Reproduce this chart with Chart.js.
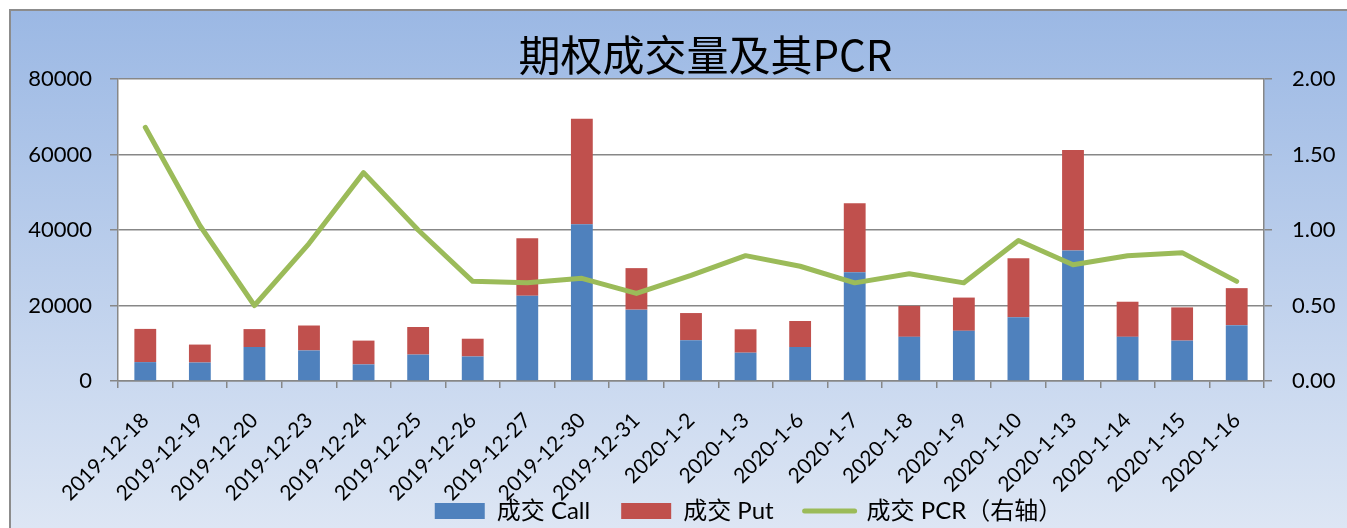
<!DOCTYPE html>
<html>
<head>
<meta charset="utf-8">
<script src="https://cdn.jsdelivr.net/npm/chart.js@4/dist/chart.umd.min.js"></script>
<style>
html,body{margin:0;padding:0;background:#fff;}
#wrap{position:relative;width:1347px;height:528px;}
</style>
</head>
<body>
<div id="wrap"><canvas id="c"></canvas></div>
<script>
const categories = ["2019-12-18","2019-12-19","2019-12-20","2019-12-23","2019-12-24","2019-12-25","2019-12-26","2019-12-27","2019-12-30","2019-12-31","2020-1-2","2020-1-3","2020-1-6","2020-1-7","2020-1-8","2020-1-9","2020-1-10","2020-1-13","2020-1-14","2020-1-15","2020-1-16"];
const callVolume = [5000, 4900, 9000, 8100, 4400, 7000, 6500, 22600, 41500, 18900, 10800, 7500, 9000, 28800, 11700, 13300, 16900, 34600, 11700, 10700, 14800];
const putVolume = [8800, 4750, 4750, 6600, 6300, 7300, 4700, 15200, 28000, 11000, 7200, 6200, 6900, 18300, 8200, 8800, 15600, 26600, 9300, 8800, 9800];
const pcrValues = [1.68, 1.03, 0.50, 0.91, 1.38, 1.00, 0.66, 0.65, 0.68, 0.58, 0.70, 0.83, 0.76, 0.65, 0.71, 0.65, 0.93, 0.77, 0.83, 0.85, 0.66];
const leftTicks = [0, 20000, 40000, 60000, 80000];
const rightTicks = [0, 0.5, 1.0, 1.5, 2.0];
const seriesNames = ["成交 Call", "成交 Put", "成交 PCR（右轴）"];
const titleText = "期权成交量及其PCR";

const TITLE_DX = 32;
const LEGEND_DX = 75;
const LEGEND_DY = -33;

const bgPlugin = {
  id: 'bg',
  beforeDraw(chart) {
    const {ctx, width, height, chartArea} = chart;
    ctx.save();
    ctx.fillStyle = '#ffffff';
    ctx.fillRect(0, 0, width, height);
    const g = ctx.createLinearGradient(0, 10, 0, height);
    g.addColorStop(0, '#9bb8e4');
    g.addColorStop(1, '#dde6f4');
    ctx.fillStyle = g;
    ctx.fillRect(10, 10, width, height);
    ctx.strokeStyle = '#8c8c8c';
    ctx.lineWidth = 2;
    ctx.beginPath();
    ctx.moveTo(10, height + 5);
    ctx.lineTo(10, 10);
    ctx.lineTo(width + 5, 10);
    ctx.stroke();
    ctx.fillStyle = '#ffffff';
    ctx.fillRect(chartArea.left, chartArea.top, chartArea.right - chartArea.left, chartArea.bottom - chartArea.top);
    ctx.restore();
  }
};

const shiftPlugin = {
  id: 'shift',
  afterLayout(chart) {
    if (chart.titleBlock) { chart.titleBlock.left += TITLE_DX; chart.titleBlock.right += TITLE_DX; }
    const lg = chart.legend;
    if (lg) {
      lg.left += LEGEND_DX; lg.right += LEGEND_DX;
      lg.top += LEGEND_DY; lg.bottom = chart.height;
      lg.height = lg.bottom - lg.top;
      lg.width = lg.right - lg.left;
    }
  }
};

const gridColor = '#878787';
const baseFont = "Lato, 'Noto Sans CJK SC', sans-serif";

const defaultGen = Chart.defaults.plugins.legend.labels.generateLabels;

new Chart(document.getElementById('c'), {
  type: 'bar',
  data: {
    labels: categories,
    datasets: [
      { label: seriesNames[0], data: callVolume, backgroundColor: '#4f81bd', stack: 's', yAxisID: 'y', order: 1 },
      { label: seriesNames[1], data: putVolume, backgroundColor: '#c0504d', stack: 's', yAxisID: 'y', order: 1 },
      { label: seriesNames[2], data: pcrValues, type: 'line', yAxisID: 'y1', borderColor: '#9bbb59', backgroundColor: '#9bbb59',
        borderWidth: 5, pointRadius: 0, pointHoverRadius: 0, tension: 0, borderCapStyle: 'round', borderJoinStyle: 'round', order: 0 }
    ]
  },
  options: {
    responsive: true,
    maintainAspectRatio: false,
    animation: false,
    devicePixelRatio: 1,
    layout: { padding: { left: 0, right: 0, top: 0, bottom: 0 } },
    datasets: { bar: { barPercentage: 0.4, categoryPercentage: 1.0 } },
    plugins: {
      tooltip: { enabled: false },
      title: {
        display: true,
        text: titleText,
        color: '#000',
        font: { family: "'Noto Sans CJK SC', sans-serif", size: 42, weight: 'normal', lineHeight: 1 },
        padding: { top: 34, bottom: 3 }
      },
      legend: {
        display: true,
        position: 'bottom',
        maxHeight: 27,
        labels: {
          color: '#000',
          font: { family: baseFont, size: 24 },
          usePointStyle: true,
          pointStyleWidth: 50,
          boxHeight: 16,
          padding: 31,
          sort: (a, b) => a.datasetIndex - b.datasetIndex,
          generateLabels(chart) {
            const items = defaultGen(chart);
            items.forEach(it => {
              const ds = chart.data.datasets[it.datasetIndex];
              if (ds.type === 'line') { it.pointStyle = 'line'; it.lineWidth = 5; it.strokeStyle = '#9bbb59'; it.lineCap = 'round'; }
              else { it.pointStyle = 'rect'; it.lineWidth = 0; }
              it.fontColor = '#000';
            });
            return items;
          }
        }
      }
    },
    scales: {
      x: {
        stacked: true,
        offset: true,
        grid: { display: true, drawOnChartArea: false, drawTicks: true, tickLength: 7, color: gridColor, lineWidth: 1.5, offset: true },
        border: { display: true, color: gridColor, width: 1.5 },
        ticks: { color: '#000', font: { family: baseFont, size: 21 }, minRotation: 45, maxRotation: 45, autoSkip: false, padding: 20 },
        afterFit(scale) { scale.height = 120; }
      },
      y: {
        stacked: true,
        position: 'left',
        min: leftTicks[0],
        max: leftTicks[leftTicks.length - 1],
        afterBuildTicks(scale) { scale.ticks = leftTicks.map(v => ({ value: v })); },
        grid: { color: gridColor, lineWidth: 1.5, tickLength: 8, drawTicks: true },
        border: { display: true, color: gridColor, width: 1.5 },
        ticks: { color: '#000', font: { family: baseFont, size: 22 }, padding: 18, callback: v => String(v) },
        afterFit(scale) { scale.width = 118; }
      },
      y1: {
        stacked: false,
        position: 'right',
        min: rightTicks[0],
        max: rightTicks[rightTicks.length - 1],
        afterBuildTicks(scale) { scale.ticks = rightTicks.map(v => ({ value: v })); },
        grid: { drawOnChartArea: false, color: gridColor, lineWidth: 1.5, tickLength: 8, drawTicks: true },
        border: { display: true, color: gridColor, width: 1.5 },
        ticks: { color: '#000', font: { family: baseFont, size: 22 }, padding: 20, callback: v => Number(v).toFixed(2) },
        afterFit(scale) { scale.width = 83; }
      }
    }
  },
  plugins: [bgPlugin, shiftPlugin]
});
</script>
</body>
</html>
